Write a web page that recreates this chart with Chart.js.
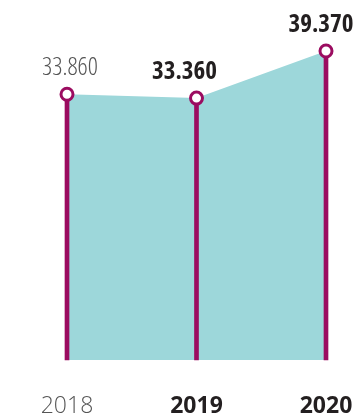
<!DOCTYPE html>
<html>
<head>
<meta charset="utf-8">
<script src="https://cdn.jsdelivr.net/npm/chart.js@4"></script>
<style>
  html, body { margin: 0; padding: 0; background: #fff; }
  #wrap { width: 356px; height: 420px; }
</style>
</head>
<body>
<div id="wrap"><canvas id="c"></canvas></div>
<script>
const years = ['2018', '2019', '2020'];
const values = [33860, 33360, 39370];

const FONT = '"Open Sans", sans-serif';
const MAGENTA = '#9b0c60';
const TEAL = '#9dd7da';
const GREY = '#555555';
const DARK = '#231f20';

const fmt = v => v.toLocaleString('de-DE');

// value labels above the points
const valueLabels = {
  id: 'valueLabels',
  afterDatasetsDraw(chart) {
    const ctx = chart.ctx;
    const meta = chart.getDatasetMeta(1);
    const shift = [3, -12, -5];
    ctx.save();
    ctx.textAlign = 'center';
    ctx.textBaseline = 'alphabetic';
    meta.data.forEach((pt, i) => {
      ctx.font = (i === 0 ? '300 ' : 'bold ') + '25px ' + FONT;
      ctx.fontStretch = 'condensed';
      ctx.fillStyle = i === 0 ? GREY : DARK;
      ctx.fillText(fmt(values[i]), pt.x + shift[i], pt.y - 19);
    });
    ctx.restore();
  }
};

new Chart(document.getElementById('c'), {
  type: 'line',
  data: {
    labels: years,
    datasets: [
      {
        type: 'bar',
        data: values,
        backgroundColor: MAGENTA,
        barThickness: 4,
        clip: false,
        order: 2
      },
      {
        data: values,
        fill: 'origin',
        backgroundColor: TEAL,
        borderWidth: 0,
        tension: 0,
        pointRadius: 6,
        pointBorderWidth: 3,
        pointBorderColor: MAGENTA,
        pointBackgroundColor: '#fff',
        clip: false,
        order: 1
      }
    ]
  },
  options: {
    responsive: true,
    maintainAspectRatio: false,
    animation: false,
    layout: { padding: { left: 67, right: 30, top: 46, bottom: 0 } },
    plugins: {
      legend: { display: false },
      tooltip: { enabled: false },
      filler: { drawTime: 'beforeDatasetsDraw' }
    },
    scales: {
      x: {
        offset: false,
        grid: { display: false, drawTicks: false },
        border: { display: false },
        afterFit: s => { s.paddingLeft = 0; s.paddingRight = 0; s.height = 60; },
        ticks: {
          padding: 33,
          maxRotation: 0,
          autoSkip: false,
          color: c => c.index === 0 ? GREY : DARK,
          font: c => ({ family: FONT, size: 23, style: 'condensed', weight: c.index === 0 ? '300' : 'bold' })
        }
      },
      y: {
        display: false,
        min: 0,
        max: 40000
      }
    }
  },
  plugins: [valueLabels]
});
</script>
</body>
</html>
